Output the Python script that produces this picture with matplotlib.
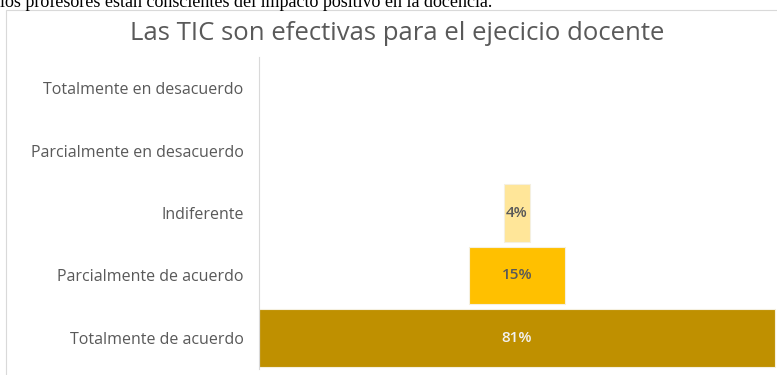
import matplotlib.pyplot as plt
from matplotlib.patches import Rectangle

categories = ["Totalmente en desacuerdo", "Parcialmente en desacuerdo", "Indiferente",
              "Parcialmente de acuerdo", "Totalmente de acuerdo"]
values = [0, 0, 4, 15, 81]
labels = ["", "", "4%", "15%", "81%"]
colors = ["#FFE699", "#FFE699", "#FFE699", "#FFC000", "#BF9000"]
label_colors = ["#595959", "#595959", "#595959", "#595959", "#F2F2F2"]

plt.rcParams['font.family'] = ['Open Sans', 'DejaVu Sans']

fig = plt.figure(figsize=(7.77, 3.75), dpi=100)

# chart frame and the cut-off sentence above it
fig.patches.append(Rectangle((6 / 777, -0.01), 1, 1 - 10 / 375 + 0.01, transform=fig.transFigure,
                             fill=False, edgecolor="#D9D9D9", linewidth=0.8))
fig.text(0.0, 1 - 7 / 375, "los profesores están conscientes del impacto positivo en la docencia.",
         family="Liberation Serif", fontsize=13, color="black", va="baseline", ha="left")
fig.text(397 / 777, 1 - 34 / 375, "Las TIC son efectivas para el ejecicio docente",
         fontsize=18.5, color="#595959", ha="center", va="center")

ax = fig.add_axes([259 / 777, 6 / 375, 518 / 777, 312 / 375])
top = max(values)
ypos = list(range(len(categories)))[::-1]
lefts = [(top - v) / 2 for v in values]
edges = ["#F5F0E0" if v > 0 else "none" for v in values]
bars = ax.barh(ypos, values, left=lefts, height=0.92, color=colors,
               edgecolor=edges, linewidth=0.8)

for y, l, v, txt, c in zip(ypos, lefts, values, labels, label_colors):
    if v > 0:
        ax.text(l + v / 2, y, txt, ha="center", va="center", fontsize=11,
                color=c, fontweight="semibold")

ax.set_yticks(ypos)
ax.set_yticklabels(categories, fontsize=11.5, color="#595959")
ax.set_xlim(0, top + 0.3)
ax.set_ylim(-0.5, len(categories) - 0.5)
ax.set_xticks([])
ax.tick_params(axis="y", length=0, pad=11)
for s in ["top", "right", "bottom"]:
    ax.spines[s].set_visible(False)
ax.spines["left"].set_color("#D9D9D9")

fig.savefig("out.png", dpi=100)
